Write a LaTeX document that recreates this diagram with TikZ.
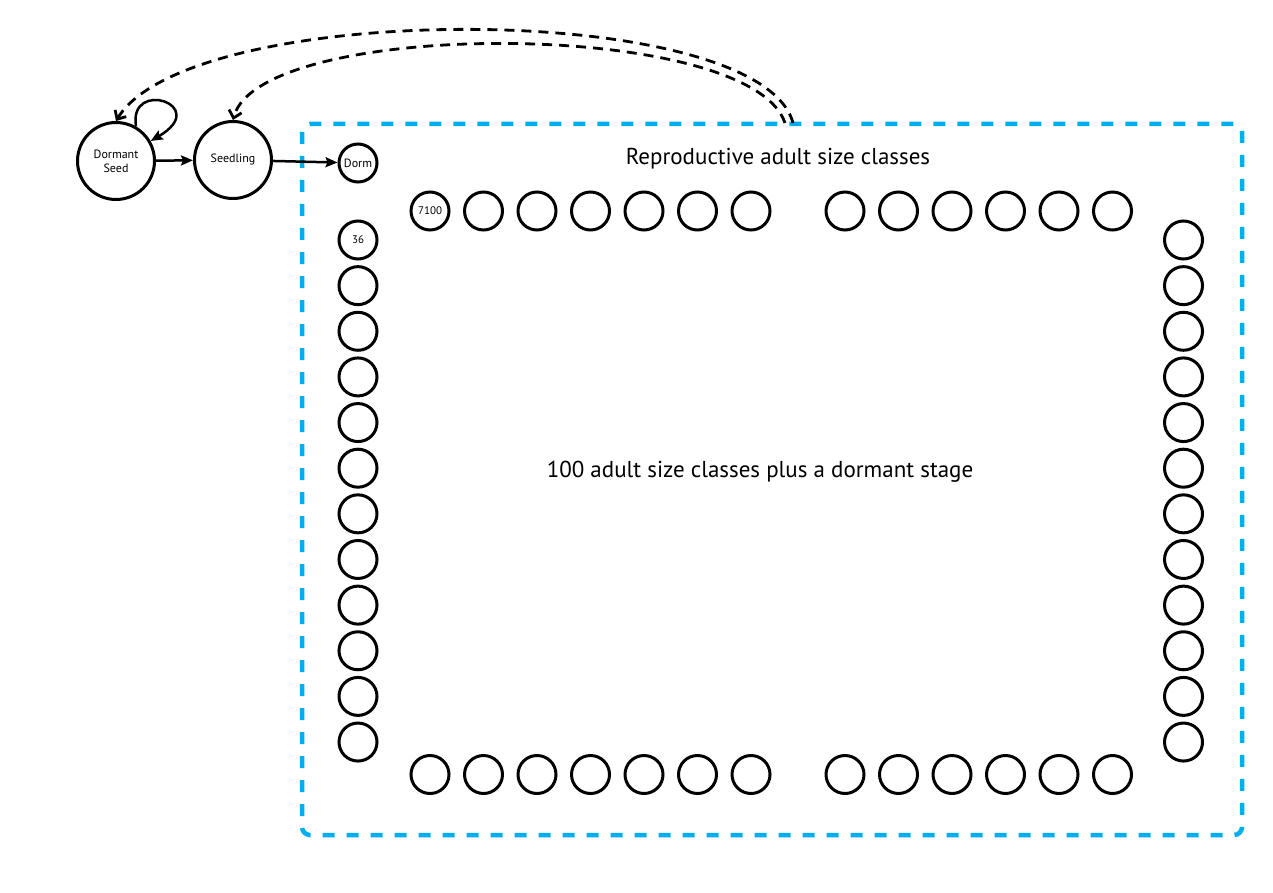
\documentclass[tikz,border=0pt]{standalone}
\usepackage{fontspec}
\setmainfont{PT Sans}
\usetikzlibrary{arrows.meta}
\usetikzlibrary{positioning}
\definecolor{boxblue}{RGB}{0,174,239}

\begin{document}
\begin{tikzpicture}[x=1pt,y=-1pt,
    stage/.style={draw,circle,line width=3pt,minimum size=38pt,inner sep=0pt,font=\fontsize{11}{13}\selectfont},
    bigstage/.style={stage,minimum size=77pt,align=center,font=\fontsize{12}{14}\selectfont},
    seedflow/.style={-{Straight Barb[length=7pt,width=13pt]},line width=2.8pt,dash pattern=on 10pt off 7pt},
    >={Stealth[length=12pt,width=10pt,inset=2pt]}]
      \useasboundingbox (0,0) rectangle (1273,893);

      \draw[boxblue,line width=4.5pt,dash pattern=on 12pt off 12pt,rounded corners=8pt] (302,124) rectangle (1242,835);

      \node[bigstage] (ds) at (116,161) {Dormant\\Seed};
      \node[bigstage] (sdl) at (233,160) {Seedling};
      \node[stage,font=\fontsize{12}{14}\selectfont] (dorm) at (358,163) {Dorm};

      \node[stage] (l1) at (358,240) {36};
      \foreach \k in {2,...,12} \node[stage] (l\k) at (358,{240+45.64*(\k-1)}) {};
      \foreach \k in {1,...,12} \node[stage] (r\k) at (1183.5,{240+45.64*(\k-1)}) {};

      \node[stage] (t1) at (430,211) {7100};
      \foreach \i in {2,...,7} \node[stage] (t\i) at ({430+53.5*(\i-1)},211) {};
      \foreach \i in {8,...,13} \node[stage] (t\i) at ({845+53.5*(\i-8)},211) {};
      \foreach \i in {1,...,7} \node[stage] (b\i) at ({430+53.5*(\i-1)},774.5) {};
      \foreach \i in {8,...,13} \node[stage] (b\i) at ({845+53.5*(\i-8)},774.5) {};

      \node[font=\fontsize{23}{27}\selectfont] (title) at (778,159) {Reproductive adult size classes};
      \node[font=\fontsize{23}{27}\selectfont] (note) at (760,472) {100 adult size classes plus a dormant stage};

      \draw[->,line width=2.5pt] (ds) -- (sdl);
      \draw[->,line width=2.5pt] (sdl) -- (dorm);
      \draw[->,line width=2.5pt] (ds.60) .. controls (128,78) and (212,105) .. (ds.30);

      \coordinate (outer) at (793,123);
      \coordinate (inner) at (785,123);
      \draw[seedflow] (outer) .. controls (760,-1) and (190,-1) .. (ds.north);
      \draw[seedflow] (inner) .. controls (750,18) and (260,18) .. (sdl.north);
    \end{tikzpicture}
\end{document}
